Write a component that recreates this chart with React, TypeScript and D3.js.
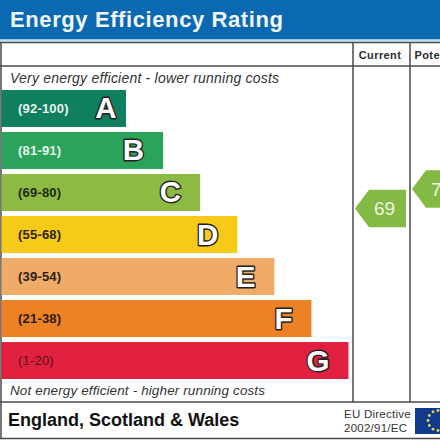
import React from "react";
import * as d3 from "d3";

const W = 440;
const FONT = "'Liberation Sans', Arial, sans-serif";
const bands = ["A", "B", "C", "D", "E", "F", "G"];
const ranges = ["(92-100)", "(81-91)", "(69-80)", "(55-68)", "(39-54)", "(21-38)", "(1-20)"];
const colors = ["#0f7f5f", "#2aa45a", "#8cba43", "#f6ca17", "#f1ab68", "#ec8126", "#e0203e"];
const rangeColors = ["#e8f3ee", "#e8f3ee", "#1d2a10", "#2a2410", "#2a2010", "#2a1c10", "#5a1020"];
const steps = [1, 2, 3, 4, 5, 6, 7];
const currentValue = 69;
const potentialValue = 78;
const currentBand = "C";
const title = "Energy Efficiency Rating";
const stars = d3.range(12);

const yBand = d3.scaleBand<string>().domain(bands).range([90, 379]).paddingInner(0.12).paddingOuter(0);
const xBar = d3.scaleLinear().domain([1, 7]).range([126, 348.5]);
const starAngle = d3.scaleLinear().domain([0, 12]).range([0, 2 * Math.PI]);

function pointer(x: number, cy: number, w: number, h: number, notch: number) {
  const line = d3.line();
  return line([
    [x, cy],
    [x + notch, cy - h / 2],
    [x + w, cy - h / 2],
    [x + w, cy + h / 2],
    [x + notch, cy + h / 2],
  ]) + "Z";
}

export default function App() {
  const lineColor = "#4a4a4a";
  const ch = yBand(currentBand)! + yBand.bandwidth() / 2;
  const cur = ch + 16;
  const pot = ch - 3.5;
  return (
    <svg width={W} height={W} viewBox={`0 0 ${W} ${W}`} style={{ position: "absolute", left: 0, top: 0, background: "#fff" }} fontFamily={FONT}>
      <rect x={0} y={0} width={W} height={39.5} fill="#0a69b1" />
      <rect x={0} y={39.5} width={W} height={2} fill="#b8dcef" />
      <text x={10} y={27} fontSize={22} fontWeight={700} fill="#f2f7fb" textLength={273} lengthAdjust="spacing">{title}</text>

      <g stroke={lineColor} fill="none">
        <line x1={0} x2={W} y1={42.5} y2={42.5} strokeWidth={1.6} />
        <line x1={0} x2={W} y1={66} y2={66} strokeWidth={1.4} />
        <line x1={0} x2={W} y1={402} y2={402} strokeWidth={1.5} />
        <line x1={0} x2={W} y1={438.5} y2={438.5} strokeWidth={1.5} />
        <line x1={1} x2={1} y1={42} y2={439} strokeWidth={1.5} />
        <line x1={353} x2={353} y1={42} y2={402} strokeWidth={1.5} />
        <line x1={410} x2={410} y1={42} y2={402} strokeWidth={1.5} />
      </g>
      <text x={380} y={59} textAnchor="middle" fontSize={11} fontWeight={700} fill="#2b2b2b" letterSpacing={0.4}>Current</text>
      <text x={414.5} y={59} fontSize={11} fontWeight={700} fill="#2b2b2b" letterSpacing={0.4}>Pote</text>

      <text x={10} y={83} fontSize={14} fontStyle="italic" fill="#333" textLength={269} lengthAdjust="spacing">Very energy efficient - lower running costs</text>
      <text x={10} y={395} fontSize={13.5} fontStyle="italic" fill="#333" textLength={255} lengthAdjust="spacing">Not energy efficient - higher running costs</text>

      {bands.map((b, i) => {
        const y = yBand(b)!;
        const h = yBand.bandwidth();
        const x1 = xBar(steps[i]);
        return (
          <g key={b}>
            <rect x={1.5} y={y} width={x1 - 1.5} height={h} fill={colors[i]} />
            <text x={18} y={y + h / 2 + 4.5} fontSize={13} fontWeight={i === 6 ? 400 : 700} fill={rangeColors[i]} letterSpacing={0.2}>{ranges[i]}</text>
            <text x={x1 - (i === 0 ? 9.5 : 19)} y={y + h / 2 + 10} textAnchor="end" fontSize={29.5} fontWeight={700} fill="#fff" stroke="#222" strokeWidth={2.8} paintOrder="stroke" strokeLinejoin="round">{b}</text>
          </g>
        );
      })}

      <path d={pointer(355, cur, 51, 37.5, 14)} fill="#84b944" />
      <text x={384.5} y={cur + 7} textAnchor="middle" fontSize={19} fill="#eef5e4">{currentValue}</text>
      <path d={pointer(412, pot, 51, 37.5, 14)} fill="#84b944" />
      <text x={441.5} y={pot + 7} textAnchor="middle" fontSize={19} fill="#eef5e4">{potentialValue}</text>

      <text x={8} y={426} fontSize={18} fontWeight={700} fill="#111">England, Scotland &amp; Wales</text>
      <text x={344} y={418} fontSize={11.5} fill="#333" letterSpacing={0.25}>EU Directive</text>
      <text x={344} y={432} fontSize={11.5} fill="#333" letterSpacing={0.25}>2002/91/EC</text>

      <rect x={415} y={408} width={25} height={26} fill="#123a8c" />
      {stars.map((s) => (
        <circle key={s} cx={438 + 10 * Math.sin(starAngle(s))} cy={420.5 - 10 * Math.cos(starAngle(s))} r={1.4} fill="#e8d84a" />
      ))}
    </svg>
  );
}
